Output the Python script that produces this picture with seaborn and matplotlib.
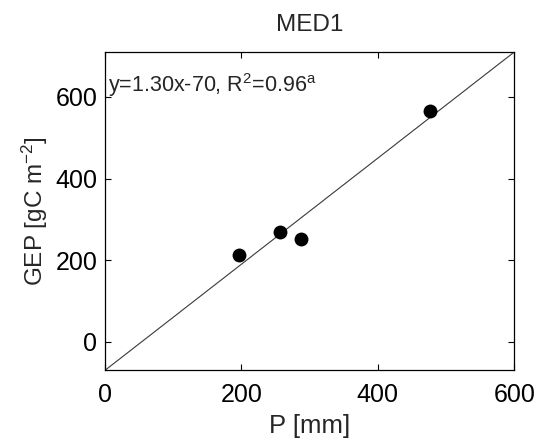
import numpy as np
import pandas as pd
import matplotlib
matplotlib.use("Agg")
import matplotlib.pyplot as plt
import seaborn as sns

# Site observations: annual precipitation vs gross ecosystem production
precip_mm = [196, 257, 287, 476]
gep = [212, 268, 251, 565]

# Linear fit reported in the panel
fit_slope = 1.30
fit_intercept = -70
fit_r2 = 0.96

x_ticks = [0, 200, 400, 600]
y_ticks = [0, 200, 400, 600]

sns.set_style("ticks")
plt.rcParams["font.family"] = ["Liberation Sans", "DejaVu Sans"]
plt.rcParams["mathtext.fontset"] = "custom"
plt.rcParams["mathtext.rm"] = "Liberation Sans"
plt.rcParams["mathtext.it"] = "Liberation Sans:italic"

fig = plt.figure(figsize=(5.39, 4.45), dpi=100)
ax = fig.add_axes([0.195, 0.168, 0.759, 0.715])

df = pd.DataFrame({"P": precip_mm, "GEP": gep})

# regression line across the x range
line_x = np.array([0, 600])
line_df = pd.DataFrame({"P": line_x, "GEP": fit_slope * line_x + fit_intercept})
sns.lineplot(data=line_df, x="P", y="GEP", ax=ax, color="#3a3a3a", lw=0.8)

sns.scatterplot(data=df, x="P", y="GEP", ax=ax, color="black", s=100,
                edgecolor="black", linewidth=0, zorder=3)

ax.set_xlim(0, 600)
ax.set_ylim(-70, 710)
ax.set_xticks(x_ticks)
ax.set_yticks(y_ticks)

for side in ["top", "right", "bottom", "left"]:
    ax.spines[side].set_visible(True)
    ax.spines[side].set_color("black")
    ax.spines[side].set_linewidth(0.9)
ax.tick_params(direction="in", length=4, width=0.8, top=True, right=True,
               labelsize=18, colors="black")
ax.tick_params(axis="x", pad=9)
ax.tick_params(axis="y", pad=5.5)

ax.set_xlabel("P [mm]", fontsize=18.5, labelpad=5)
ax.set_ylabel("GEP [gC m$^{-2}$]", fontsize=17.5, labelpad=4)
ax.set_title("MED1", fontsize=17.5, pad=15)

ax.text(4, 613, f"y={fit_slope:.2f}x{fit_intercept:+d}, R$^2$={fit_r2:.2f}$^\\mathrm{{a}}$",
        fontsize=15.5, ha="left", va="baseline")

fig.savefig("out.png", dpi=100)
